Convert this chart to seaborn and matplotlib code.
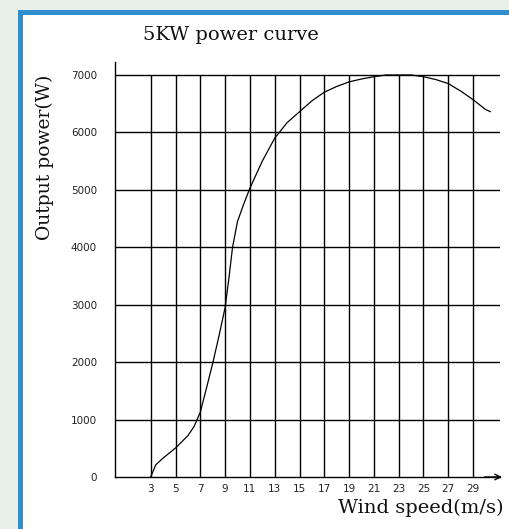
import numpy as np
import pandas as pd
import matplotlib
matplotlib.use("Agg")
import matplotlib.pyplot as plt
import seaborn as sns
from matplotlib.patches import Rectangle

# wind speed (m/s) and output power (W)
wind = [3, 3.4, 4, 5, 6, 6.5, 7, 7.5, 8, 8.5, 9, 9.3, 9.6, 10, 10.5, 11, 12, 13, 14, 15,
        16, 17, 18, 19, 20, 21, 22, 23, 24, 25, 26, 27, 28, 29, 30, 30.4]
power = [0, 210, 330, 505, 720, 880, 1130, 1550, 1980, 2450, 2950, 3450, 4000, 4450, 4750,
         5030, 5500, 5900, 6170, 6360, 6550, 6700, 6800, 6880, 6930, 6970, 7000, 7000, 7000,
         6970, 6920, 6850, 6720, 6570, 6400, 6360]
x_ticks = [3, 5, 7, 9, 11, 13, 15, 17, 19, 21, 23, 25, 27, 29]
y_ticks = [0, 1000, 2000, 3000, 4000, 5000, 6000, 7000]

df = pd.DataFrame({"wind": wind, "power": power})

sns.set_style("white")
W, H = 510, 529
fig = plt.figure(figsize=(W / 100, H / 100), dpi=100, facecolor="#e8f0ea")

# white panel with blue frame
fig.add_artist(Rectangle((19.5 / W, -0.1), 1.2, 1 - 12 / H + 0.1, transform=fig.transFigure,
                         facecolor="white", edgecolor="#2f8fce", linewidth=3.6, zorder=-1))

ax = fig.add_axes([115 / W, 52 / H, 385 / W, 415 / H])
ax.set_facecolor("none")
ax.set_xlim(0.12, 31.17)
ax.set_ylim(0, 7226)

# grid
ax.vlines(x_ticks, 0, 7000, color="black", linewidth=1.0)
ax.hlines(y_ticks[1:], 0.12, 31.17, color="black", linewidth=1.0)

sns.lineplot(data=df, x="wind", y="power", ax=ax, color="black", linewidth=0.9)

for s in ["top", "right"]:
    ax.spines[s].set_visible(False)
ax.spines["left"].set_color("black")
ax.spines["bottom"].set_color("black")
ax.spines["left"].set_linewidth(1.0)
ax.spines["bottom"].set_linewidth(1.0)
ax.annotate("", xy=(1.005, 0), xytext=(0.96, 0), xycoords="axes fraction",
            arrowprops=dict(arrowstyle="->", color="black", lw=1.0, shrinkA=0, shrinkB=0))

ax.set_xticks(x_ticks)
ax.set_yticks(y_ticks)
ax.set_xticklabels([str(t) for t in x_ticks], fontsize=7.5, color="#222222")
ax.set_yticklabels([str(t) for t in y_ticks], fontsize=7.5, color="#222222")
ax.tick_params(length=0, pad=5)
ax.tick_params(axis="y", pad=13)
ax.set_xlabel("")
ax.set_ylabel("")

fig.text(231 / W, 1 - 35 / H, "5KW power curve", fontsize=14, family="DejaVu Serif",
         ha="center", va="center", color="#111111")
fig.text(504 / W, 1 - 508 / H, "Wind speed(m/s)", fontsize=14, family="DejaVu Serif",
         ha="right", va="center", color="#111111")
fig.text(45 / W, 1 - 157 / H, "Output power(W)", fontsize=13.5, family="DejaVu Serif",
         ha="center", va="center", rotation=90, color="#111111")

fig.savefig("out.png", dpi=100, facecolor=fig.get_facecolor())
